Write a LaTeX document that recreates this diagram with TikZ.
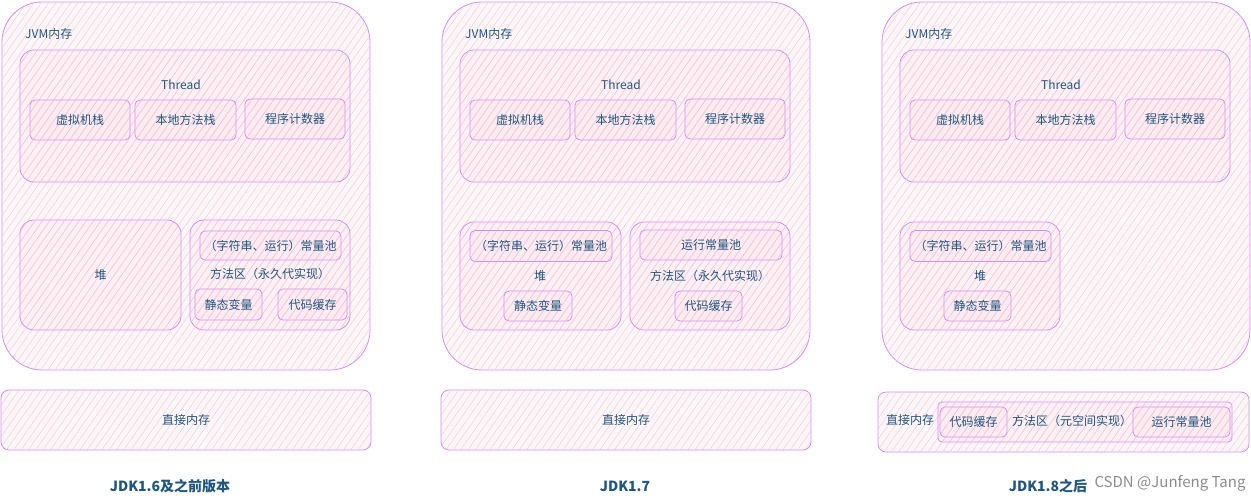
\documentclass[tikz,border=0pt]{standalone}
\usepackage{fontspec}
\setmainfont{Noto Sans CJK SC}
\usetikzlibrary{patterns.meta}
\definecolor{edge}{RGB}{212,140,240}
\definecolor{paper}{RGB}{253,222,234}
\definecolor{hatch}{RGB}{248,196,216}
\definecolor{ink}{RGB}{30,86,128}
\begin{document}
\begin{tikzpicture}[x=1pt,y=-1pt,font=\fontsize{12}{14}\selectfont,
	box/.style={draw=edge,line width=0.8pt,fill=paper,fill opacity=0.25,text opacity=1,text=ink,
		postaction={pattern={Lines[angle=55,distance=6pt,line width=0.45pt]},pattern color=hatch}},
	cell/.style={box,rounded corners=5pt,minimum width=100,minimum height=40,inner sep=0pt},
	lbl/.style={text=ink,inner sep=1pt},
	title/.style={text=ink,font=\fontsize{14}{16}\selectfont\bfseries},
	wmark/.style={text=black!45,font=\fontsize{15}{17}\selectfont}]
	\useasboundingbox (0,0) rectangle (1251,501);
	% common part of the three versions
	\foreach \dx in {0,440,880}{
		\draw[box,rounded corners=40pt] (\dx+2,2) rectangle (\dx+370,370);
		\node[lbl,anchor=west] (jvm\dx) at (\dx+24,34) {JVM内存};
		\draw[box,rounded corners=14pt] (\dx+20,50) rectangle (\dx+350,182);
		\node[lbl] (thr\dx) at (\dx+181,85) {Thread};
		\node[cell] (vms\dx) at (\dx+80,120) {虚拟机栈};
		\node[cell,minimum width=101] (nms\dx) at (\dx+185.5,120) {本地方法栈};
		\node[cell] (pc\dx) at (\dx+295,119) {程序计数器};
	}
	% JDK1.6
	\node[box,rounded corners=14pt,minimum width=161,minimum height=110] (heap1) at (100.5,275) {堆};
	\draw[box,rounded corners=14pt] (190,220) rectangle (350,330);
	\node[cell,minimum width=141,minimum height=29] (pool1) at (270.5,245.5) {（字符串、运行）常量池};
	\node[lbl] (ma1) at (270,274) {方法区（永久代实现）};
	\node[cell,minimum width=67,minimum height=31] (sv1) at (228.5,304.5) {静态变量};
	\node[cell,minimum width=69,minimum height=31] (cc1) at (312.5,304.5) {代码缓存};
	\node[box,rounded corners=8pt,minimum width=370,minimum height=60] (dm1) at (186,420) {直接内存};
	\node[title] (t1) at (170,486) {JDK1.6及之前版本};
	% JDK1.7
	\draw[box,rounded corners=14pt] (460,222) rectangle (621,330);
	\node[cell,minimum width=142,minimum height=31] (pool2) at (541,246) {（字符串、运行）常量池};
	\node[lbl] (heap2) at (540,276) {堆};
	\node[cell,minimum width=68,minimum height=30] (sv2) at (538,306) {静态变量};
	\draw[box,rounded corners=14pt] (630,222) rectangle (790,330);
	\node[cell,minimum width=142,minimum height=30] (rcp2) at (711,245) {运行常量池};
	\node[lbl] (ma2) at (710,276) {方法区（永久代实现）};
	\node[cell,minimum width=67,minimum height=30] (cc2) at (708.5,306) {代码缓存};
	\node[box,rounded corners=8pt,minimum width=370,minimum height=60] (dm2) at (626,420) {直接内存};
	\node[title] (t2) at (625,486) {JDK1.7};
	% JDK1.8
	\draw[box,rounded corners=14pt] (900,222) rectangle (1060,330);
	\node[cell,minimum width=141,minimum height=31] (pool3) at (980.5,246) {（字符串、运行）常量池};
	\node[lbl] (heap3) at (980,276) {堆};
	\node[cell,minimum width=67,minimum height=30] (sv3) at (977.5,306) {静态变量};
	\draw[box,rounded corners=8pt] (878,392) rectangle (1249,452);
	\node[lbl] (dm3) at (910,420) {直接内存};
	\draw[box,rounded corners=4pt] (938,402) rectangle (1232,442);
	\node[cell,minimum width=67,minimum height=30] (cc3) at (973.5,422) {代码缓存};
	\node[lbl] (ma3) at (1072,421) {方法区（元空间实现）};
	\node[cell,minimum width=97,minimum height=30] (rcp3) at (1181.5,422) {运行常量池};
	\node[title] (t3) at (1048,486) {JDK1.8之后};
	\node[wmark] (wm) at (1170,483) {CSDN @Junfeng Tang};
\end{tikzpicture}
\end{document}
